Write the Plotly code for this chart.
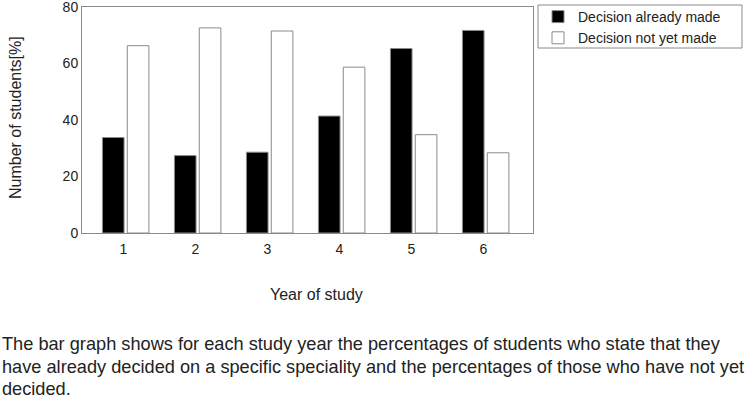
import plotly.graph_objects as go

years = [1, 2, 3, 4, 5, 6]
year_labels = ["1", "2", "3", "4", "5", "6"]
decided = [33.8, 27.4, 28.6, 41.4, 65.3, 71.7]
not_decided = [66.3, 72.6, 71.5, 58.7, 34.8, 28.4]
series_names = ["Decision already made", "Decision not yet made"]
y_ticks = [0, 20, 40, 60, 80]
caption_lines = [
    "The bar graph shows for each study year the percentages of students who state that they",
    "have already decided on a specific speciality and the percentages of those who have not yet",
    "decided.",
]

W, H = 747, 399
L, R, T, B = 82, 533, 7, 233
FONT = "Liberation Sans, Arial, sans-serif"
TXT = "#222222"
EDGE = "#8a8a8a"

fig = go.Figure()
fig.add_trace(go.Bar(
    x=years, y=decided, name=series_names[0],
    marker=dict(color="black", line=dict(color=EDGE, width=1)),
    width=0.30, offset=-0.29,
))
fig.add_trace(go.Bar(
    x=years, y=not_decided, name=series_names[1],
    marker=dict(color="white", line=dict(color=EDGE, width=1)),
    width=0.30, offset=0.055,
))

def px_x(p):
    return (p - L) / (R - L)

def px_y(p):
    return (B - p) / (B - T)

annotations = [
    dict(text="Year of study", x=px_x(316), y=px_y(294), xref="paper", yref="paper",
         showarrow=False, xanchor="center", yanchor="middle",
         font=dict(size=16, color=TXT, family=FONT)),
    dict(text="Number of students[%]", x=px_x(15), y=px_y(118), xref="paper", yref="paper",
         showarrow=False, xanchor="center", yanchor="middle", textangle=-90,
         font=dict(size=16, color=TXT, family=FONT)),
]
for i, line in enumerate(caption_lines):
    annotations.append(dict(
        text=line, x=px_x(0), y=px_y(344 + 22.5 * i), xref="paper", yref="paper",
        showarrow=False, xanchor="left", yanchor="middle",
        font=dict(size=18.2, color=TXT, family=FONT)))

# legend frame (style element)
shapes = [dict(type="rect", xref="paper", yref="paper",
               x0=px_x(538), x1=px_x(742), y0=px_y(48), y1=px_y(5),
               line=dict(color=EDGE, width=1), fillcolor="rgba(0,0,0,0)", layer="below")]

fig.update_layout(
    width=W, height=H,
    margin=dict(l=L, r=W - R, t=T, b=H - B, pad=0, autoexpand=False),
    paper_bgcolor="white", plot_bgcolor="white",
    barmode="overlay",
    font=dict(family=FONT, color=TXT, size=14),
    showlegend=True,
    legend=dict(
        x=px_x(538), y=px_y(1), xanchor="left", yanchor="top",
        borderwidth=0, bgcolor="rgba(0,0,0,0)",
        font=dict(size=14, color=TXT, family=FONT),
        tracegroupgap=0,
    ),
    xaxis=dict(
        range=[0.426, 6.69], tickvals=years, ticktext=year_labels,
        showgrid=False, zeroline=False, showline=True, linecolor=EDGE, linewidth=1,
        mirror=True, ticks="", tickfont=dict(size=14, color=TXT, family=FONT),
        ticklabelstandoff=3, ticklabeloverflow="allow", automargin=False,
    ),
    yaxis=dict(
        range=[0, 80], tickvals=y_ticks, showgrid=False, zeroline=False,
        showline=True, linecolor=EDGE, linewidth=1, mirror=True, ticks="",
        tickfont=dict(size=14, color=TXT, family=FONT),
        ticklabeloverflow="allow", automargin=False,
    ),
    shapes=shapes,
    annotations=annotations,
)

fig.write_html("out.html", post_script="document.body.style.margin='0';",
               config={"displayModeBar": False})
